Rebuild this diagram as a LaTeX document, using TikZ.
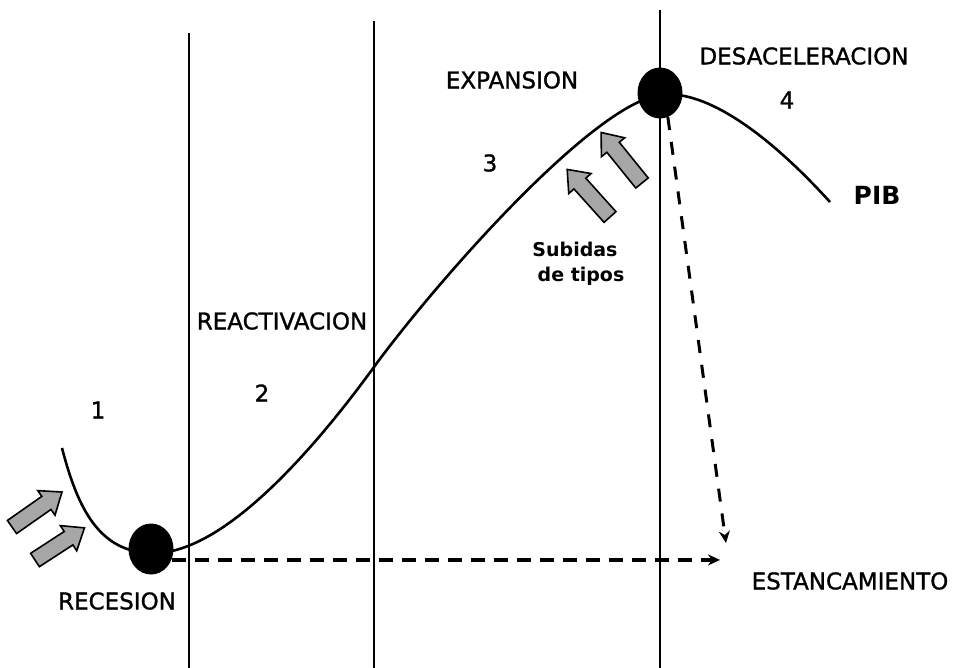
\documentclass[tikz,border=0pt]{standalone}
\usepackage{fontspec}
\setmainfont{DejaVu Sans}
\newfontfamily\heavyfont{DejaVu Sans}[FakeBold=1.2]
\usetikzlibrary{shapes.geometric,arrows.meta}
\newcommand\blockarr[3]{% tail, angle, length
  \draw[barrow,shift={(#1)},rotate=#2] (0,-8) -- ({#3-19},-8) -- ({#3-19},-15) -- (#3,0) -- ({#3-19},15) -- ({#3-19},8) -- (0,8) -- cycle;}
\begin{document}
\begin{tikzpicture}[x=1pt,y=-1pt,
  vline/.style={line width=1.4pt},
  curve/.style={line width=2.6pt},
  bigdot/.style={ellipse,fill=black,draw=none,minimum width=45pt,minimum height=51pt,inner sep=0},
  lbl/.style={font=\heavyfont\fontsize{23}{27}\selectfont,inner sep=0},
  bold/.style={font=\bfseries\fontsize{19}{23}\selectfont,inner sep=0},
  dashline/.style={line width=3.6pt,dash pattern=on 14pt off 9pt,-{Stealth[length=12pt,width=11pt]}},
  barrow/.style={draw=black,line width=1.6pt,fill=black!35,line join=miter}]
\useasboundingbox (0,0) rectangle (957,668);
% vertical lines
\draw[vline] (189,33) -- (189,668);
\draw[vline] (374,21) -- (374,668);
\draw[vline] (660,10) -- (660,668);
% curve
\draw[curve] (62,448) .. controls (78,510) and (100,552) .. (151,553)
  .. controls (220,556) and (310,455) .. (374,367)
  .. controls (430,290) and (590,105) .. (660,95)
  .. controls (700,89) and (760,125) .. (830,202);
% dots
\node[bigdot] (rec) at (151,549) {};
\node[bigdot] (peak) at (660,93) {};
% dashed arrows
\coordinate (stagH) at (720,564);
\coordinate (stagV) at (726,543);
\draw[dashline] (rec.-28) -- (rec.-28 -| stagH);
\draw[dashline,line width=3pt,dash pattern=on 13pt off 12pt] (peak.-72) -- (stagV);
% block arrows
\blockarr{12,527}{35}{61}
\blockarr{35,560}{33}{59}
\blockarr{642,183}{129}{65}
\blockarr{610,217}{132}{64}
% labels
\node[lbl] (n1) at (98,410) {1};
\node[lbl] (n2) at (262,393) {2};
\node[lbl] (n3) at (490,163) {3};
\node[lbl] (n4) at (787,100) {4};
\node[lbl] (reac) at (282,321) {REACTIVACION};
\node[lbl] (exp) at (512,80) {EXPANSION};
\node[lbl] (des) at (804,56) {DESACELERACION};
\node[lbl] (recl) at (117,601) {RECESION};
\node[lbl] (est) at (850,581) {ESTANCAMIENTO};
\node[font=\bfseries\fontsize{25}{29}\selectfont,inner sep=0] (pib) at (877,195) {PIB};
\node[bold] (sub) at (575,249) {Subidas};
\node[bold] (tip) at (581,276) {de tipos};
\end{tikzpicture}
\end{document}
